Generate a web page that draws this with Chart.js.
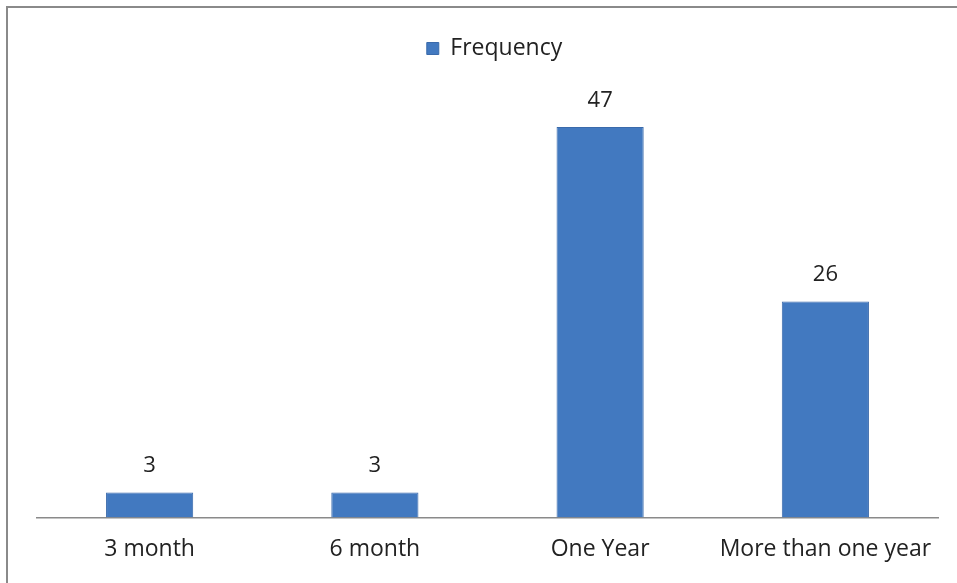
<!DOCTYPE html>
<html>
<head>
<meta charset="utf-8">
<script src="https://cdn.jsdelivr.net/npm/chart.js@4"></script>
<style>
  body { margin: 0; background: #fff; }
  #wrap { position: relative; width: 957px; height: 583px; }
  #frame { position: absolute; left: 6px; top: 6px; width: 960px; height: 590px;
           border-left: 2px solid #8a8a8a; border-top: 2px solid #8a8a8a; }
  canvas { position: absolute; left: 0; top: 0; }
</style>
</head>
<body>
<div id="wrap">
  <div id="frame"></div>
  <canvas id="durationChart" width="957" height="583"></canvas>
</div>
<script>
const categories = ["3 month", "6 month", "One Year", "More than one year"];
const frequency = [3, 3, 47, 26];
const seriesName = "Frequency";

const fontFamily = "'Open Sans', Lato, sans-serif";

// writes each bar's value just above it
const valueLabels = {
  id: "valueLabels",
  afterDatasetsDraw(chart) {
    const ctx = chart.ctx;
    const meta = chart.getDatasetMeta(0);
    ctx.save();
    ctx.font = "22px " + fontFamily;
    ctx.fillStyle = "#222";
    ctx.textAlign = "center";
    ctx.textBaseline = "alphabetic";
    meta.data.forEach((bar, i) => {
      ctx.fillText(String(chart.data.datasets[0].data[i]), bar.x, bar.y - 20);
    });
    ctx.restore();
  }
};

// extra room under the legend, and nudge it a little right
const legendGap = {
  id: "legendGap",
  beforeInit(chart) {
    const fit = chart.legend.fit;
    chart.legend.fit = function () {
      fit.call(this);
      this.height += 32;
    };
  },
  afterLayout(chart) {
    chart.legend.left += 7;
    chart.legend.right += 7;
  }
};

const ctx = document.getElementById("durationChart").getContext("2d");
const chart = new Chart(ctx, {
  type: "bar",
  data: {
    labels: categories,
    datasets: [
      {
        label: seriesName,
        data: frequency,
        backgroundColor: "#4279c0",
        borderColor: "#3a6aab",
        borderWidth: 1,
        barPercentage: 0.387,
        categoryPercentage: 1
      }
    ]
  },
  options: {
    responsive: false,
    animation: false,
    layout: { padding: { left: 37, right: 19, top: 29, bottom: 2 } },
    plugins: {
      legend: {
        display: true,
        position: "top",
        labels: {
          font: { size: 23, family: fontFamily },
          color: "#222",
          boxWidth: 12,
          boxHeight: 12,
          padding: 8
        }
      },
      tooltip: { enabled: false }
    },
    scales: {
      x: {
        grid: { display: false, drawTicks: false },
        border: { display: true, color: "#8a8a8a", width: 1.5 },
        ticks: { font: { size: 23, family: fontFamily }, color: "#222", padding: 18, maxRotation: 0 }
      },
      y: {
        display: false,
        min: 0,
        max: 50
      }
    }
  },
  plugins: [valueLabels, legendGap]
});
</script>
</body>
</html>
